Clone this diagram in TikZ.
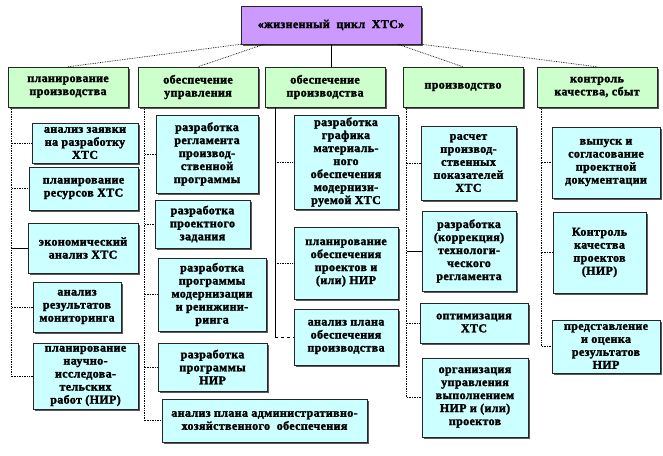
\documentclass[tikz,border=0pt]{standalone}
\usepackage{fontspec}
\setmainfont{Liberation Serif}
\newfontfamily\boxfont[LetterSpace=3.0, FakeBold=2]{Liberation Serif Bold}
\usetikzlibrary{shadows, calc}
\definecolor{lilac}{HTML}{CC99FF}
\definecolor{mint}{HTML}{CCFFCC}
\definecolor{icecyan}{HTML}{CCFFFF}
\tikzset{
  base/.style={draw=black!85, thin, align=center, inner sep=2pt,
    font=\boxfont\fontsize{12}{13}\selectfont,
    drop shadow={shadow xshift=2pt, shadow yshift=-2pt, fill=black!65, opacity=1}},
  topbox/.style={base, fill=lilac, minimum width=180pt, minimum height=38pt},
  headbox/.style={base, fill=mint, minimum width=120pt, minimum height=40pt},
  taskbox/.style={base, fill=icecyan},
  link/.style={densely dotted, line width=0.7pt},
  rule/.style={line width=0.6pt},
}

\begin{document}
\begin{tikzpicture}[x=1pt, y=-1pt]
  \useasboundingbox (0,0) rectangle (663,455);

  % top
  \node[topbox] (top) at (331,25) {«жизненный\ \ цикл\ \ ХТС»};

  % stages
  \node[headbox] (h1) at (68,87)  {планирование\\производства};
  \node[headbox] (h2) at (198,87) {обеспечение\\управления};
  \node[headbox] (h3) at (325,87) {обеспечение\\производства};
  \node[headbox] (h4) at (463,87) {производство};
  \node[headbox] (h5) at (597,87) {контроль\\качества,\ сбыт};

  \draw[link] (top.south west) -- (h1.north);
  \draw[link] ($(top.south west)!0.13!(top.south east)$) -- (h2.north);
  \draw[rule] (top.south) -- (top.south |- h3.north);
  \draw[link] ($(top.south west)!0.87!(top.south east)$) -- (h4.north);
  \draw[link] (top.south east) -- (h5.north);

  % planning of production
  \node[taskbox, minimum width=106pt, minimum height=40pt] (a1) at (85,143)
    {анализ заявки\\на разработку\\ХТС};
  \node[taskbox, minimum width=109pt, minimum height=43pt] (a2) at (83.5,188.5)
    {планирование\\ресурсов ХТС};
  \node[taskbox, minimum width=110pt, minimum height=50pt] (a3) at (83,248)
    {экономический\\анализ ХТС};
  \node[taskbox, minimum width=88pt, minimum height=50pt] (a4) at (77,307)
    {анализ\\результатов\\мониторинга};
  \node[taskbox, minimum width=105pt, minimum height=66pt] (a5) at (85.5,376)
    {планирование\\научно-\\исследова-\\тельских\\работ (НИР)};

  \coordinate (s1) at ($(h1.south west)+(4,0)$);
  \draw[link] (s1) -- (s1 |- a5.west);
  \foreach \n in {a1,a2,a4,a5} \draw[link] (s1 |- \n.west) -- (\n.west);
  \draw[rule] (s1 |- a3.west) -- (a3.west);

  % management support
  \node[taskbox, minimum width=102pt, minimum height=78pt] (b1) at (207,154)
    {разработка\\регламента\\производ-\\ственной\\программы};
  \node[taskbox, minimum width=95pt, minimum height=48pt] (b2) at (202.5,224)
    {разработка\\проектного\\задания};
  \node[taskbox, minimum width=108pt, minimum height=73pt] (b3) at (212,294.5)
    {разработка\\программы\\модернизации\\и реинжини-\\ринга};
  \node[taskbox, minimum width=109pt, minimum height=48pt] (b4) at (212.5,367)
    {разработка\\программы\\НИР};
  \node[taskbox, minimum width=205pt, minimum height=43pt] (b5) at (264.5,420.5)
    {анализ плана административно-\\хозяйственного\ \ обеспечения};

  \coordinate (s2) at ($(h2.south west)+(7,0)$);
  \draw[link] (s2) -- (s2 |- b5.west);
  \foreach \n in {b1,b2,b3,b4,b5} \draw[link] (s2 |- \n.west) -- (\n.west);

  % production support
  \node[taskbox, minimum width=104pt, minimum height=94pt] (c1) at (346,162)
    {разработка\\графика\\материаль-\\ного\\обеспечения\\модернизи-\\руемой\ ХТС};
  \node[taskbox, minimum width=104pt, minimum height=72pt] (c2) at (346,263)
    {планирование\\обеспечения\\проектов и\\(или)\ НИР};
  \node[taskbox, minimum width=104pt, minimum height=56pt] (c3) at (346,337)
    {анализ плана\\обеспечения\\производства};

  \coordinate (s3) at ($(h3.south west)+(10,0)$);
  \draw[rule] (s3) -- (s3 |- c3.west);
  \foreach \n in {c1,c2} \draw[link] (s3 |- \n.west) -- (\n.west);
  \draw[dashed] (s3 |- c3.west) -- (c3.west);

  % production
  \node[taskbox, minimum width=95pt, minimum height=74pt] (d1) at (468.5,163)
    {расчет\\производ-\\ственных\\показателей\\ХТС};
  \node[taskbox, minimum width=94pt, minimum height=80pt] (d2) at (469,251)
    {разработка\\(коррекция)\\технологи-\\ческого\\регламента};
  \node[taskbox, minimum width=108pt, minimum height=40pt] (d3) at (474,323)
    {оптимизация\\ХТС};
  \node[taskbox, minimum width=106pt, minimum height=79pt] (d4) at (475,397.5)
    {организация\\управления\\выполнением\\НИР и (или)\\проектов};

  \coordinate (s4) at ($(h4.south west)+(4,0)$);
  \draw[link] (s4) -- (s4 |- d4.west);
  \foreach \n in {d1,d3,d4} \draw[link] (s4 |- \n.west) -- (\n.west);
  \draw[rule] (s4 |- d2.west) -- (d2.west);

  % quality control, sales
  \node[taskbox, minimum width=108pt, minimum height=71pt] (e1) at (606,162.5)
    {выпуск и\\согласование\\проектной\\документации};
  \node[taskbox, minimum width=93pt, minimum height=81pt] (e2) at (599.5,252.5)
    {Контроль\\качества\\проектов\\(НИР)};
  \node[taskbox, minimum width=108pt, minimum height=53pt] (e3) at (606,346.5)
    {представление\\и оценка\\результатов\\НИР};

  \coordinate (s5) at ($(h5.south west)+(5,0)$);
  \draw[link] (s5) -- (s5 |- e3.west);
  \foreach \n in {e1,e2,e3} \draw[link] (s5 |- \n.west) -- (\n.west);
\end{tikzpicture}
\end{document}
